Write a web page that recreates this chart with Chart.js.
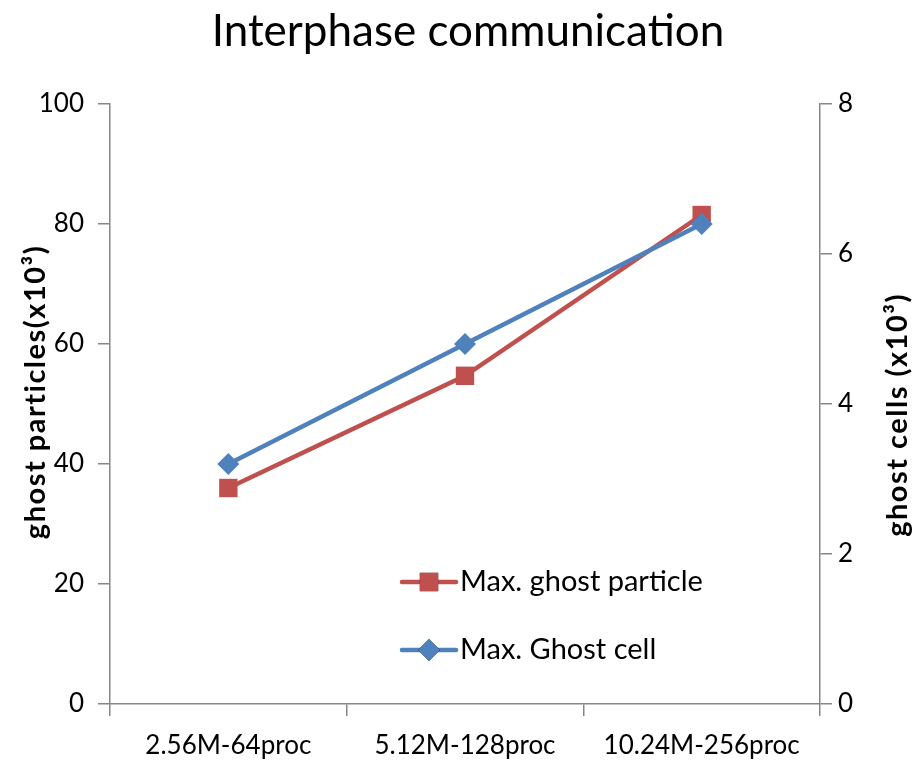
<!DOCTYPE html>
<html lang="en">
<head>
<meta charset="UTF-8">
<title>Interphase communication</title>
<script src="https://cdn.jsdelivr.net/npm/chart.js"></script>
<style>
  body { margin: 0; background: #fff; }
  #wrap { width: 918px; height: 770px; }
</style>
</head>
<body>
<div id="wrap"><canvas id="chart" width="918" height="770"></canvas></div>
<script>
// data (both series in units of 10^3)
const categories = ["2.56M-64proc", "5.12M-128proc", "10.24M-256proc"];
const ghostParticles = [36, 54.7, 81.5];
const ghostCells = [3.2, 4.8, 6.4];
const particleTicks = [0, 20, 40, 60, 80, 100];
const cellTicks = [0, 2, 4, 6, 8];

const chartTitle = "Interphase communication";
const leftTitle = "ghost particles(x10³)";
const rightTitle = "ghost cells (x10³)";

const FONT = "Lato, 'Open Sans', sans-serif";
const AXIS = "#868686";
const RED = "#C0504D";
const BLUE = "#4F81BD";

// legend drawn inside the plot, below the lines
const innerLegend = {
  id: "innerLegend",
  afterDatasetsDraw(chart) {
    const ctx = chart.ctx;
    const a = chart.chartArea;
    const items = [chart.data.datasets[1], chart.data.datasets[0]]; // particle first
    items.forEach((ds, i) => {
      const y = a.top + 478 + i * 68;
      const x0 = a.left + 292;
      ctx.save();
      ctx.strokeStyle = ds.borderColor;
      ctx.lineWidth = ds.borderWidth;
      ctx.lineCap = "round";
      ctx.beginPath();
      ctx.moveTo(x0, y);
      ctx.lineTo(x0 + 54, y);
      ctx.stroke();
      Chart.helpers.drawPoint(ctx, {
        pointStyle: ds.pointStyle,
        radius: ds.pointRadius,
        borderWidth: 0
      }, x0 + 27, y);
      ctx.fillStyle = ds.backgroundColor;
      ctx.fill();
      ctx.fillStyle = "#000";
      ctx.font = "29px " + FONT;
      ctx.textBaseline = "middle";
      ctx.textAlign = "left";
      ctx.fillText(ds.label, x0 + 58, y);
      ctx.restore();
    });
  }
};

// chart title and the two rotated axis titles (both read bottom to top)
const titles = {
  id: "titles",
  afterDraw(chart) {
    const ctx = chart.ctx;
    ctx.save();
    ctx.fillStyle = "#000";
    ctx.textAlign = "center";
    ctx.textBaseline = "middle";
    ctx.font = "44px " + FONT;
    ctx.fillText(chartTitle, 468, 32);

    ctx.font = "bold 29px " + FONT;
    ctx.letterSpacing = "1.5px";
    [[leftTitle, 36, 392], [rightTitle, 898, 415]].forEach(([text, x, y]) => {
      ctx.save();
      ctx.translate(x, y);
      ctx.rotate(-Math.PI / 2);
      ctx.fillText(text, 0, 0);
      ctx.restore();
    });
    ctx.restore();
  }
};

function fixTicks(values) {
  return scale => { scale.ticks = values.map(v => ({ value: v })); };
}

new Chart(document.getElementById("chart"), {
  type: "line",
  data: {
    labels: categories,
    datasets: [
      {
        label: "Max. Ghost cell",
        data: ghostCells,
        yAxisID: "y1",
        order: 0,
        borderColor: BLUE,
        backgroundColor: BLUE,
        borderWidth: 4.5,
        pointStyle: "rectRot",
        pointRadius: 11,
        pointHoverRadius: 11,
        pointBorderWidth: 0,
        tension: 0
      },
      {
        label: "Max. ghost particle",
        data: ghostParticles,
        yAxisID: "y",
        order: 1,
        borderColor: RED,
        backgroundColor: RED,
        borderWidth: 4.5,
        pointStyle: "rect",
        pointRadius: 13,
        pointHoverRadius: 13,
        pointBorderWidth: 0,
        tension: 0
      }
    ]
  },
  options: {
    responsive: false,
    animation: false,
    layout: { padding: { top: 104, left: 0, right: 0, bottom: 0 } },
    plugins: {
      legend: { display: false },
      tooltip: { enabled: false },
      title: { display: false }
    },
    scales: {
      x: {
        offset: true,
        grid: { display: true, drawOnChartArea: false, offset: true, color: AXIS, lineWidth: 1.5, tickLength: 12 },
        border: { color: AXIS, width: 1.5 },
        ticks: { color: "#000", font: { family: FONT, size: 26 }, padding: 14, maxRotation: 0 },
        afterFit: s => { s.height = 66; }
      },
      y: {
        position: "left",
        min: 0,
        max: 100,
        afterBuildTicks: fixTicks(particleTicks),
        grid: { drawOnChartArea: false, color: AXIS, lineWidth: 1.5, tickLength: 12 },
        border: { color: AXIS, width: 1.5 },
        ticks: { color: "#000", font: { family: FONT, size: 26 }, padding: 14 },
        afterFit: s => { s.width = 110; }
      },
      y1: {
        position: "right",
        min: 0,
        max: 8,
        afterBuildTicks: fixTicks(cellTicks),
        grid: { drawOnChartArea: false, color: AXIS, lineWidth: 1.5, tickLength: 12 },
        border: { color: AXIS, width: 1.5 },
        ticks: { color: "#000", font: { family: FONT, size: 26 }, padding: 6 },
        afterFit: s => { s.width = 98; }
      }
    }
  },
  plugins: [innerLegend, titles]
});
</script>
</body>
</html>
